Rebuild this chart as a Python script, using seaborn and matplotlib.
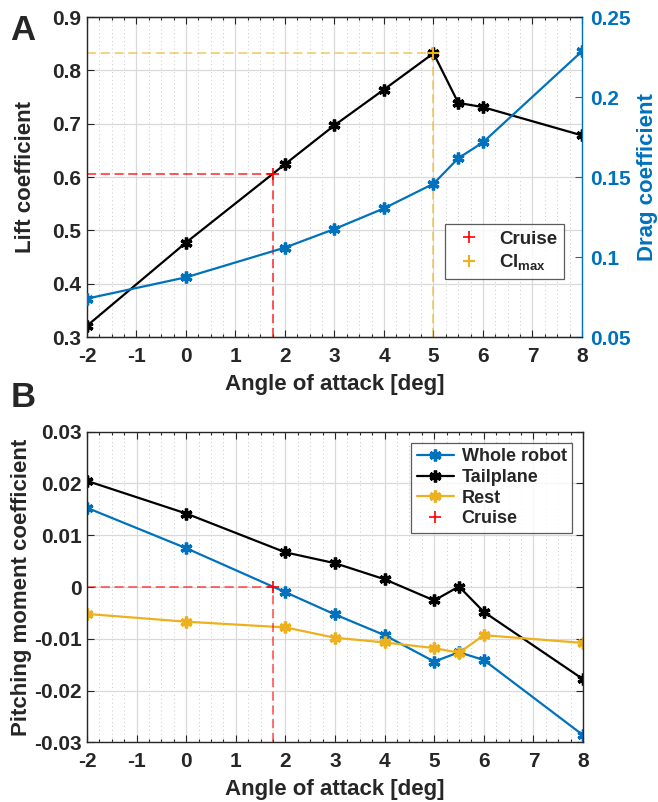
import numpy as np
import pandas as pd
import matplotlib
matplotlib.use("Agg")
import matplotlib.pyplot as plt
import seaborn as sns
from matplotlib.ticker import MultipleLocator, FixedLocator, FuncFormatter
from matplotlib.lines import Line2D

# ---------------- data ----------------
aoa = [-2, 0, 2, 3, 4, 5, 5.5, 6, 8]
lift = [0.321, 0.477, 0.624, 0.697, 0.764, 0.832, 0.739, 0.731, 0.678]
drag = [0.074, 0.0873, 0.1059, 0.1175, 0.1304, 0.1458, 0.1617, 0.1717, 0.2286]

cm_whole = [0.0153, 0.0075, -0.0010, -0.0053, -0.0093, -0.0144, -0.0126, -0.0141, -0.0286]
cm_tail = [0.0205, 0.0142, 0.0067, 0.0046, 0.0015, -0.0026, 0.0001, -0.0048, -0.0178]
cm_rest = [-0.0052, -0.0067, -0.0078, -0.0098, -0.0107, -0.0118, -0.0127, -0.0093, -0.0108]

cruise_aoa = 1.75
cruise_cl = 0.605
clmax_aoa = 5
clmax_cl = 0.832
cruise_cm = 0.0

x_ticks = [-2, -1, 0, 1, 2, 3, 4, 5, 6, 7, 8]
cl_ticks = [0.3, 0.4, 0.5, 0.6, 0.7, 0.8, 0.9]
cd_ticks = [0.05, 0.1, 0.15, 0.2, 0.25]
cm_ticks = [-0.03, -0.02, -0.01, 0, 0.01, 0.02, 0.03]

# ---------------- style ----------------
sns.set_style("ticks")
plt.rcParams['font.family'] = ['Liberation Sans', 'DejaVu Sans']
plt.rcParams['font.weight'] = 'bold'
plt.rcParams['axes.labelweight'] = 'bold'
plt.rcParams['axes.unicode_minus'] = False
plt.rcParams['mathtext.fontset'] = 'custom'
plt.rcParams['mathtext.rm'] = 'Liberation Sans:bold'
plt.rcParams['mathtext.it'] = 'Liberation Sans:bold'
plt.rcParams['mathtext.bf'] = 'Liberation Sans:bold'

BLUE = '#0072BD'
YEL = '#EDB120'
RED = '#FF0000'
AST = (6, 2, 0)

fig = plt.figure(figsize=(6.58, 8.02), dpi=100)
ax1 = fig.add_axes([0.1322, 0.5798, 0.7523, 0.399])
ax3 = fig.add_axes([0.1322, 0.0744, 0.7538, 0.3873])

TICK_FS = 15
LAB_FS = 16
LEG_FS = 13


def style_grid(ax):
    ax.xaxis.set_minor_locator(MultipleLocator(0.25))
    ax.grid(True, which='major', color='#d9d9d9', lw=0.9, ls='-')
    ax.grid(True, which='minor', axis='x', color='#c8c8c8', lw=0.7, ls=(0, (1, 3)))
    ax.set_axisbelow(True)
    ax.tick_params(which='both', direction='in', top=True, labelsize=TICK_FS, width=0.8)
    ax.tick_params(which='major', length=5)
    ax.tick_params(which='minor', length=2.5)
    ax.tick_params(axis='x', which='major', pad=7)
    ax.tick_params(axis='y', which='major', pad=4)
    for lbl in ax.get_xticklabels() + ax.get_yticklabels():
        lbl.set_fontweight('bold')


# ---------------- panel A ----------------
dfA = pd.DataFrame({'aoa': aoa, 'lift': lift, 'drag': drag})
ax2 = ax1.twinx()
ax2.set_position(ax1.get_position())

sns.lineplot(data=dfA, x='aoa', y='lift', ax=ax1, color='black', lw=1.6,
             marker=AST, markersize=8.5, markeredgewidth=2.4, markeredgecolor='black')
sns.lineplot(data=dfA, x='aoa', y='drag', ax=ax2, color=BLUE, lw=1.6,
             marker=AST, markersize=8.5, markeredgewidth=2.4, markeredgecolor=BLUE)

ax1.plot([-2, cruise_aoa], [cruise_cl, cruise_cl], color=RED, ls=(0, (6, 3)), lw=1.1, alpha=0.85)
ax1.plot([cruise_aoa, cruise_aoa], [0.3, cruise_cl], color=RED, ls=(0, (6, 3)), lw=1.1, alpha=0.85)
ax1.plot([-2, clmax_aoa], [clmax_cl, clmax_cl], color=YEL, ls=(0, (6, 3)), lw=1.1, alpha=0.7)
ax1.plot([clmax_aoa, clmax_aoa], [0.3, clmax_cl], color=YEL, ls=(0, (6, 3)), lw=1.1, alpha=0.7)
ax1.plot([cruise_aoa], [cruise_cl], marker='+', color=RED, ms=8, mew=1.2, ls='none')
ax1.plot([clmax_aoa], [clmax_cl], marker='+', color=YEL, ms=9, mew=1.5, ls='none')

ax1.set_xlim(-2, 8)
ax1.set_ylim(0.3, 0.9)
ax2.set_ylim(0.05, 0.25)
ax1.xaxis.set_major_locator(FixedLocator(x_ticks))
ax1.yaxis.set_major_locator(FixedLocator(cl_ticks))
ax2.yaxis.set_major_locator(FixedLocator(cd_ticks))
ax1.yaxis.set_major_formatter(FuncFormatter(lambda v, p: f'{v:g}'))
ax2.yaxis.set_major_formatter(FuncFormatter(lambda v, p: f'{v:g}'))
ax1.xaxis.set_major_formatter(FuncFormatter(lambda v, p: f'{v:g}'))
style_grid(ax1)
ax1.tick_params(axis='y', right=False)
ax2.tick_params(axis='y', direction='in', length=5, colors=BLUE, labelsize=TICK_FS, width=0.8, pad=6)
for lbl in ax2.get_yticklabels():
    lbl.set_fontweight('bold')
ax2.spines['right'].set_color(BLUE)
ax2.spines['right'].set_linewidth(1.0)
for s in ['left', 'top', 'bottom']:
    ax1.spines[s].set_linewidth(1.0)
ax1.spines['right'].set_visible(False)
ax2.spines['left'].set_visible(False)
ax2.grid(False)

ax1.set_xlabel('Angle of attack [deg]', fontsize=LAB_FS, fontweight='bold', labelpad=6)
ax1.set_ylabel('Lift coefficient', fontsize=LAB_FS, fontweight='bold', labelpad=12)
ax2.set_ylabel('Drag coefficient', fontsize=LAB_FS, fontweight='bold', color=BLUE, labelpad=4)

legA = [Line2D([], [], color=RED, marker='+', ls='none', ms=8, mew=1.2, label='Cruise'),
        Line2D([], [], color=YEL, marker='+', ls='none', ms=8, mew=1.5, label=r'$\mathrm{Cl}_{\mathrm{max}}$')]
lg = ax2.legend(handles=legA, loc='upper left', bbox_to_anchor=(0.724, 0.353), borderaxespad=0,
                fontsize=LEG_FS + 0.5, frameon=True, fancybox=False, edgecolor='#333333',
                borderpad=0.35, handletextpad=0.7, labelspacing=0.25, handlelength=1.8)
lg.get_frame().set_linewidth(0.9)
for t in lg.get_texts():
    t.set_fontweight('bold')

fig.text(0.016, 0.962, 'A', fontsize=25, fontweight='bold', va='center')

# ---------------- panel B ----------------
dfB = pd.DataFrame({'aoa': aoa * 3,
                    'cm': cm_whole + cm_tail + cm_rest,
                    'part': ['Whole robot'] * 9 + ['Tailplane'] * 9 + ['Rest'] * 9})
palette = {'Whole robot': BLUE, 'Tailplane': 'black', 'Rest': YEL}
for part in ['Whole robot', 'Tailplane', 'Rest']:
    sub = dfB[dfB['part'] == part]
    sns.lineplot(data=sub, x='aoa', y='cm', ax=ax3, color=palette[part], lw=1.6,
                 marker=AST, markersize=8.5, markeredgewidth=2.4, markeredgecolor=palette[part],
                 label=part)

ax3.plot([-2, cruise_aoa], [cruise_cm, cruise_cm], color=RED, ls=(0, (6, 3)), lw=1.1, alpha=0.7)
ax3.plot([cruise_aoa, cruise_aoa], [-0.03, cruise_cm], color=RED, ls=(0, (6, 3)), lw=1.1, alpha=0.7)
ax3.plot([cruise_aoa], [cruise_cm], marker='+', color=RED, ms=8, mew=1.2, ls='none', label='Cruise')

ax3.set_xlim(-2, 8)
ax3.set_ylim(-0.03, 0.03)
ax3.xaxis.set_major_locator(FixedLocator(x_ticks))
ax3.yaxis.set_major_locator(FixedLocator(cm_ticks))
ax3.xaxis.set_major_formatter(FuncFormatter(lambda v, p: f'{v:g}'))
ax3.yaxis.set_major_formatter(FuncFormatter(lambda v, p: '0' if abs(v) < 1e-12 else f'{v:.2f}'))
style_grid(ax3)
ax3.tick_params(axis='y', right=True)
for s in ax3.spines.values():
    s.set_linewidth(1.0)
    s.set_color('#262626')
ax3.set_xlabel('Angle of attack [deg]', fontsize=LAB_FS, fontweight='bold', labelpad=6)
ax3.set_ylabel('Pitching moment coefficient', fontsize=LAB_FS, fontweight='bold', labelpad=1)

lg3 = ax3.legend(loc='upper right', bbox_to_anchor=(0.978, 0.9636), borderaxespad=0,
                 fontsize=LEG_FS, frameon=True, fancybox=False, edgecolor='#333333', borderpad=0.3,
                 handletextpad=0.4, labelspacing=0.2, handlelength=2.1)
lg3.get_frame().set_linewidth(0.9)
for t in lg3.get_texts():
    t.set_fontweight('bold')

fig.text(0.016, 0.504, 'B', fontsize=25, fontweight='bold', va='center')

fig.savefig('out.png', dpi=100)
